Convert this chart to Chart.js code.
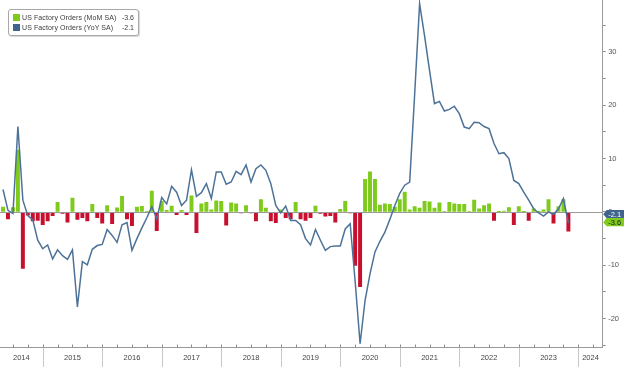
<!DOCTYPE html>
<html>
<head>
<meta charset="utf-8">
<title>US Factory Orders</title>
<script src="https://cdn.jsdelivr.net/npm/chart.js@4.4.1/dist/chart.umd.min.js"></script>
<style>
  html, body { margin: 0; padding: 0; background: #fff; }
  #wrap { position: relative; width: 624px; height: 367px; }
  #legend {
    position: absolute; left: 8px; top: 9px; width: 121px; height: 25px;
    padding: 0 4px; border: 1px solid #a8a8a8; border-radius: 3px; background: #fff;
    box-shadow: 1px 1px 1px #d8d8d8;
    font: 7px "Liberation Sans", Arial, sans-serif; color: #3a3a3a;
  }
  #legend .row { display: flex; align-items: center; height: 9px; margin-top: 3px; }
  #legend .row + .row { margin-top: 1px; }
  #legend .sw { width: 7px; height: 7px; margin-right: 2px; flex: none; }
  #legend .name { flex: 1; white-space: nowrap; letter-spacing: 0.1px; }
  #legend .val { white-space: nowrap; margin-left: 3px; }
</style>
</head>
<body>
<div id="wrap">
  <canvas id="chart" width="624" height="367"></canvas>
  <div id="legend"></div>
</div>
<script>
"use strict";

// first observation: April 2014, monthly to October 2023
var startYear = 2014, startMonth = 4;
var yearLabels = ["2014", "2015", "2016", "2017", "2018", "2019", "2020", "2021", "2022", "2023", "2024"];
var seriesNames = ["US Factory Orders (MoM SA)", "US Factory Orders (YoY SA)"];
var lastValues = ["-3.6", "-2.1"];

var momValues = [
    0.9, -1.3, 0.8, 11.6, -10.6, -0.6, -1.7, -1.6, -2.4,                 // 2014
    -1.7, -0.7, 1.8, -0.3, -1.9, 2.6, -1.4, -1.1, -1.7, 1.4, -1.1, -2.1,  // 2015
    1.2, -2.2, 0.75, 2.9, -1.3, -2.6, 0.9, 1.05, 0.1, 3.9, -3.5, 2.0,     // 2016
    0.3, 1.1, -0.5, 0.3, -0.5, 3.0, -3.9, 1.5, 1.8, 0.4, 2.1, 2.0,        // 2017
    -2.5, 1.7, 1.5, -0.2, 1.2, -0.2, -1.7, 2.3, 0.7, -1.7, -2.0, 0.4,     // 2018
    -1.1, -1.3, 1.8, -1.3, -1.6, -1.1, 1.1, -0.3, -0.8, -0.7, -1.9, 0.5,  // 2019
    2.0, -0.2, -10.0, -14.0, 6.1, 7.5, 6.1, 1.3, 1.5, 1.4, 0.9, 2.3,      // 2020
    3.7, 0.4, 1.0, 0.7, 2.0, 1.9, 0.7, 1.7, 0.1, 1.8, 1.5, 1.4,           // 2021
    1.4, 0.1, 2.2, 0.6, 1.2, 1.5, -1.6, 0.05, 0.15, 0.8, -2.4, 1.0,       // 2022
    0.05, -1.6, 0.6, 0.05, 0.4, 2.3, -2.1, 1.0, 2.3, -3.6                 // 2023
];

var yoyValues = [
    4.2, 0.3, -0.3, 16.0, 2.2, -0.7, -1.5, -5.3, -6.9,                    // 2014
    -6.2, -8.8, -7.1, -8.2, -8.9, -7.1, -17.8, -9.3, -9.9, -7.0, -6.3, -6.1, // 2015
    -3.3, -4.4, -5.7, -2.4, -2.0, -7.2, -5.0, -3.0, -1.1, 1.0, -1.3, 2.7, // 2016
    1.5, 4.8, 3.7, 1.2, 2.2, 7.9, 2.9, 3.6, 5.3, 2.5, 7.5, 7.5,           // 2017
    5.2, 5.6, 7.6, 7.0, 8.8, 5.6, 8.1, 8.8, 7.8, 5.3, 1.2, -0.2,          // 2018
    1.1, -1.6, -1.6, -2.4, -5.0, -6.2, -3.3, -5.3, -7.2, -6.5, -6.4, -6.4, // 2019
    -3.2, -2.2, -13.0, -24.7, -16.6, -11.6, -7.5, -5.5, -3.8, -1.4, 1.2, 3.5, // 2020
    5.0, 5.6, 22.0, 39.0, 33.0, 26.5, 20.3, 20.7, 18.9, 19.2, 19.8, 18.4, // 2021
    15.9, 15.6, 16.8, 16.7, 16.0, 15.6, 12.8, 10.9, 11.1, 10.0, 5.9, 5.3, // 2022
    3.7, 2.2, 0.6, -0.2, -0.8, 0.0, -0.5, 0.6, 2.5, -2.1                  // 2023
];

var GREEN = "#7fcb1c", RED = "#c8102e", BLUE = "#4d7298", TAG_BLUE = "#3f648e";

// x axis in months since Jan 2014, each value plotted at its month end
var xMin = 3.39, xMax = 124.92;
var firstX = (startYear - 2014) * 12 + startMonth;
var momPoints = momValues.map(function (v, i) { return { x: firstX + i, y: v }; });
var yoyPoints = yoyValues.map(function (v, i) { return { x: firstX + i, y: v }; });

// where the year labels sit (middle of each visible year)
var yearLabelPos = yearLabels.map(function (lab, i) {
    var a = Math.max(i * 12, xMin), b = Math.min(i * 12 + 12, xMax);
    return (a + b) / 2;
});

// legend
var legendColors = [GREEN, TAG_BLUE];
document.getElementById("legend").innerHTML = seriesNames.map(function (n, i) {
    return '<div class="row"><span class="sw" style="background:' + legendColors[i] + '"></span>' +
        '<span class="name">' + n + '</span><span class="val">' + lastValues[i] + '</span></div>';
}).join("");

var decor = {
    id: "decor",
    beforeDatasetDraw: function (chart, args) {
        if (args.index !== 1) return;
        var ctx = chart.ctx, area = chart.chartArea;
        var y0 = Math.round(chart.scales.y.getPixelForValue(0)) + 0.5;
        ctx.save();
        ctx.strokeStyle = "#9a9a9a";
        ctx.lineWidth = 1;
        ctx.beginPath();
        ctx.moveTo(area.left, y0);
        ctx.lineTo(area.right, y0);
        ctx.stroke();
        ctx.restore();
    },
    afterDraw: function (chart) {
        var ctx = chart.ctx, area = chart.chartArea, xs = chart.scales.x, ys = chart.scales.y;
        ctx.save();
        ctx.lineWidth = 1;
        // year separators under the axis
        ctx.strokeStyle = "#c8c8c8";
        for (var i = 1; i < yearLabels.length; i++) {
            var px = Math.round(xs.getPixelForValue(i * 12)) + 0.5;
            ctx.beginPath();
            ctx.moveTo(px, area.bottom);
            ctx.lineTo(px, chart.height);
            ctx.stroke();
        }
        // quarter ticks
        ctx.strokeStyle = "#8c8c8c";
        for (var m = 3; m < xMax; m += 3) {
            if (m < xMin) continue;
            var qx = Math.round(xs.getPixelForValue(m)) + 0.5;
            ctx.beginPath();
            ctx.moveTo(qx, area.bottom);
            ctx.lineTo(qx, area.bottom - 3);
            ctx.stroke();
        }
        // last value tags on the right
        var tags = [
            { v: yoyValues[yoyValues.length - 1], text: lastValues[1], fill: TAG_BLUE, color: "#fff" },
            { v: momValues[momValues.length - 1], text: lastValues[0], fill: GREEN, color: "#1a1a1a" }
        ];
        tags.forEach(function (t) {
            var cy = ys.getPixelForValue(t.v) - 9;
            var x0 = area.right + 0.5;
            ctx.fillStyle = t.fill;
            ctx.beginPath();
            ctx.moveTo(x0, cy);
            ctx.lineTo(x0 + 3.5, cy - 4.2);
            ctx.lineTo(chart.width, cy - 4.2);
            ctx.lineTo(chart.width, cy + 4.2);
            ctx.lineTo(x0 + 3.5, cy + 4.2);
            ctx.closePath();
            ctx.fill();
            ctx.fillStyle = t.color;
            ctx.font = "7.5px 'Liberation Sans', Arial, sans-serif";
            ctx.textBaseline = "middle";
            ctx.textAlign = "left";
            ctx.fillText(t.text, x0 + 5, cy + 0.5);
        });
        ctx.restore();
    }
};

new Chart(document.getElementById("chart").getContext("2d"), {
    type: "bar",
    data: {
        datasets: [{
            type: "bar",
            label: seriesNames[0],
            data: momPoints,
            backgroundColor: momValues.map(function (v) { return v >= 0 ? GREEN : RED; }),
            barThickness: 3.3,
            order: 2
        }, {
            type: "line",
            label: seriesNames[1],
            data: yoyPoints,
            borderColor: BLUE,
            borderWidth: 1.5,
            pointRadius: 0,
            tension: 0,
            order: 1
        }]
    },
    options: {
        responsive: false,
        animation: false,
        devicePixelRatio: 1,
        layout: { padding: 0 },
        plugins: { legend: { display: false }, tooltip: { enabled: false } },
        scales: {
            x: {
                type: "linear",
                min: xMin,
                max: xMax,
                offset: false,
                grid: { display: false, drawTicks: false },
                border: { display: true, color: "#9a9a9a" },
                afterBuildTicks: function (scale) {
                    scale.ticks = yearLabelPos.map(function (v) { return { value: v }; });
                },
                afterFit: function (scale) {
                    scale.height = 19.5;
                    scale.paddingLeft = 0;
                    scale.paddingRight = 0;
                },
                ticks: {
                    autoSkip: false,
                    maxRotation: 0,
                    padding: 6,
                    color: "#444",
                    font: { family: "'Liberation Sans', Arial, sans-serif", size: 7.5 },
                    callback: function (v, i) { return yearLabels[i]; }
                }
            },
            y: {
                position: "right",
                min: -25.4,
                max: 39.7,
                grid: { drawOnChartArea: false, drawTicks: true, tickLength: 3, tickColor: "#8c8c8c" },
                border: { display: true, color: "#9a9a9a" },
                afterBuildTicks: function (scale) {
                    var t = [];
                    for (var v = -25; v <= 35; v += 5) t.push({ value: v });
                    scale.ticks = t;
                },
                afterFit: function (scale) {
                    scale.width = 21.3;
                    scale.paddingTop = 0;
                    scale.paddingBottom = 0;
                },
                ticks: {
                    padding: 2.5,
                    color: "#555",
                    font: { family: "'Liberation Sans', Arial, sans-serif", size: 7.5 },
                    callback: function (v) { return v % 10 === 0 ? String(v) : ""; }
                }
            }
        }
    },
    plugins: [decor]
});
</script>
</body>
</html>
